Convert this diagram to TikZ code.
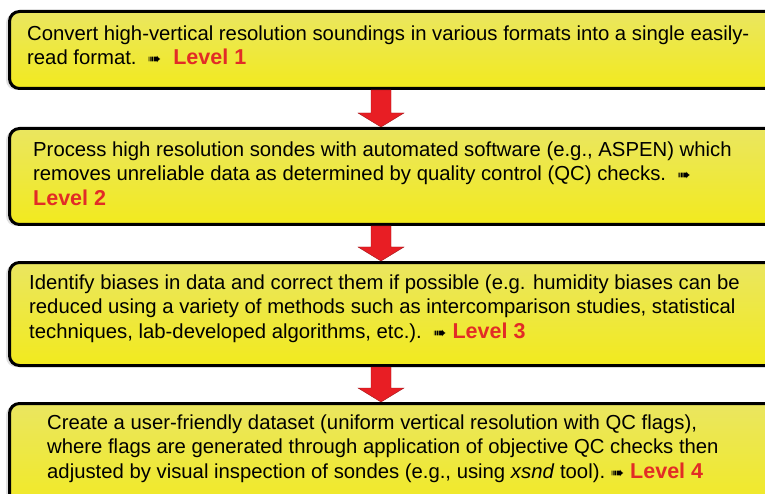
\documentclass[tikz,border=0pt]{standalone}
\usepackage{fontspec}
\setmainfont{Liberation Sans}
\newfontfamily\symfont{DejaVu Sans}
\usetikzlibrary{calc}
\definecolor{boxyellow}{RGB}{234,230,96}
\definecolor{boxyellowb}{RGB}{242,234,30}
\definecolor{lvred}{RGB}{226,44,38}
\definecolor{arrred}{RGB}{232,30,36}
\newcommand\lvl[1]{{\color{lvred}\bfseries\fontsize{21.5}{24.5}\selectfont Level #1}}
\newcommand\pointer{{\symfont\fontsize{16}{16}\selectfont ➠}}
\newcommand\blockarrow[2]{%
  \fill[arrred, draw=arrred!70!black, line width=0.4pt]
    ($(#1)+(-10,0)$) -- ($(#2)+(-10,-14)$) -- ($(#2)+(-23,-14)$) -- (#2)
    -- ($(#2)+(23,-14)$) -- ($(#2)+(10,-14)$) -- ($(#1)+(10,0)$) -- cycle;}
\begin{document}
\begin{tikzpicture}[x=1pt,y=-1pt,
  stagebox/.style={draw=black, line width=3pt, rounded corners=10pt,
    top color=boxyellow, middle color=boxyellow, bottom color=boxyellowb,
    anchor=north west, minimum width=790pt, inner sep=0pt},
  stagetext/.style={anchor=north west, inner sep=0pt, align=left,
    font=\fontsize{20.3}{24.5}\selectfont}]
\useasboundingbox (0,0) rectangle (765,494);
\clip (0,0) rectangle (765,494);
\fill[white] (0,0) rectangle (765,494);
% shadows
\foreach \ya/\yb in {10/87,127/223,261/364,402/520}
  \fill[black!12, rounded corners=10pt] (6,\ya+3) rectangle (790,\yb+3);
\node[stagebox, minimum height=77pt] (b1) at (8,10) {};
\node[stagebox, minimum height=96pt] (b2) at (8,127) {};
\node[stagebox, minimum height=103pt] (b3) at (8,261) {};
\node[stagebox, minimum height=115pt] (b4) at (8,402) {};
\coordinate (ax) at (381,0);
\blockarrow{b1.south -| ax}{b2.north -| ax}
\blockarrow{b2.south -| ax}{b3.north -| ax}
\blockarrow{b3.south -| ax}{b4.north -| ax}
\node[stagetext] (t1) at (27,25) {\rule{0pt}{15pt}Convert high-vertical resolution soundings in various formats into a single easily-\\read format.\ \ \pointer\hspace{12pt}\lvl{1}};
\node[stagetext] (t2) at (33,141) {\rule{0pt}{15pt}Process high resolution sondes with automated software (e.g., ASPEN) which\\removes unreliable data as determined by quality control (QC) checks.\ \ \pointer\\\lvl{2}};
\node[stagetext] (t3) at (29,274) {\rule{0pt}{15pt}Identify biases in data and correct them if possible (e.g. humidity biases can be\\reduced using a variety of methods such as intercomparison studies, statistical\\techniques, lab-developed algorithms, etc.).\ \ \pointer\hspace{6pt}\lvl{3}};
\node[stagetext] (t4) at (47,414) {\rule{0pt}{15pt}Create a user-friendly dataset (uniform vertical resolution with QC flags),\\where flags are generated through application of objective QC checks then\\adjusted by visual inspection of sondes (e.g., using \textit{xsnd} tool).\ \pointer\hspace{6pt}\lvl{4}};
\end{tikzpicture}
\end{document}
